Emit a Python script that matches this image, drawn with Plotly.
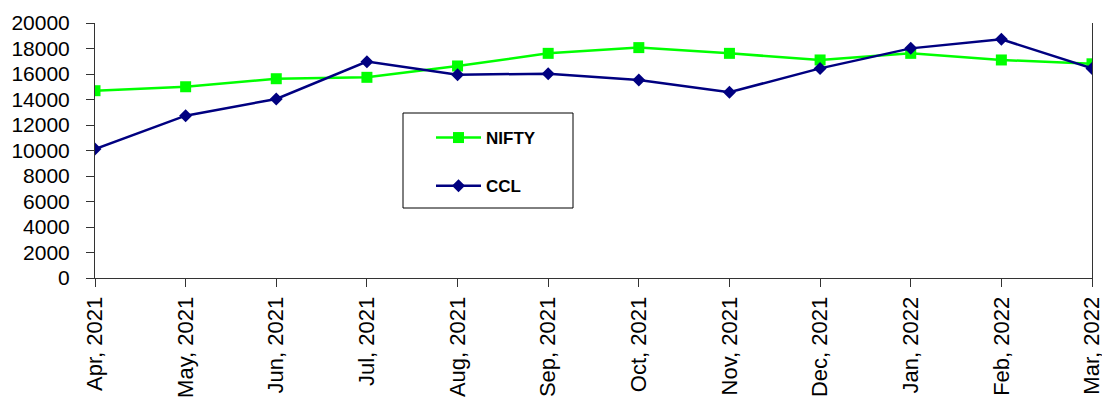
import plotly.graph_objects as go

months = ["Apr, 2021", "May, 2021", "Jun, 2021", "Jul, 2021", "Aug, 2021", "Sep, 2021",
          "Oct, 2021", "Nov, 2021", "Dec, 2021", "Jan, 2022", "Feb, 2022", "Mar, 2022"]
nifty = [14690, 15000, 15630, 15740, 16630, 17620, 18070, 17620, 17100, 17620, 17100, 16800]
ccl = [10120, 12730, 14040, 16970, 15950, 16020, 15530, 14570, 16440, 18010, 18720, 16440]
y_ticks = list(range(0, 20001, 2000))

W, H = 1102, 407
ML, MR, MT, MB = 95, 10, 23, 129
PW, PH = W - ML - MR, H - MT - MB

def px_x(p):
    return (p - ML) / PW

def px_y(p):
    return (H - MB - p) / PH

FONT = "Liberation Sans, Arial, sans-serif"

fig = go.Figure()
fig.add_trace(go.Scatter(
    x=months, y=nifty, name="NIFTY", mode="lines+markers",
    line=dict(color="#00FF00", width=2.5),
    marker=dict(symbol="square", size=11, color="#00FF00"),
    legendgroup="a",
))
fig.add_trace(go.Scatter(
    x=months, y=ccl, name="CCL", mode="lines+markers",
    line=dict(color="#000080", width=2.5),
    marker=dict(symbol="diamond", size=10, color="#000080"),
    legendgroup="b",
))

axis_line = "#333333"
fig.update_layout(
    width=W, height=H,
    margin=dict(l=ML, r=MR, t=MT, b=MB, pad=0, autoexpand=False),
    paper_bgcolor="white", plot_bgcolor="white",
    font=dict(family=FONT, color="black"),
    showlegend=True,
    legend=dict(
        x=px_x(431), y=px_y(120), xanchor="left", yanchor="top",
        bgcolor="rgba(0,0,0,0)", borderwidth=0,
        font=dict(family=FONT, size=17, color="black", weight="bold"),
        tracegroupgap=23, itemwidth=45,
    ),
    xaxis=dict(
        type="category", range=[0, len(months) - 1], automargin=False,
        showgrid=False, zeroline=False,
        showline=True, linecolor=axis_line, linewidth=1,
        ticks="outside", ticklen=8, tickcolor=axis_line, tickwidth=1,
        tickangle=-90, tickfont=dict(family=FONT, size=22, color="black"),
        ticklabelstandoff=1,
    ),
    yaxis=dict(
        range=[0, 20000], tickvals=y_ticks, tickformat="d", automargin=False,
        showgrid=False, zeroline=False,
        showline=True, linecolor=axis_line, linewidth=1, mirror=True,
        ticks="outside", ticklen=8, tickcolor=axis_line, tickwidth=1,
        tickfont=dict(family=FONT, size=21, color="black"),
        ticklabelstandoff=12,
    ),
    xaxis2=dict(
        type="category", range=[0, len(months) - 1], overlaying="x", anchor="y",
        categoryarray=months, tickvals=months, automargin=False,
        showgrid=False, zeroline=False, showline=False,
        ticks="inside", ticklen=6, tickcolor=axis_line, tickwidth=1,
        showticklabels=False, side="bottom",
    ),
    yaxis2=dict(
        range=[0, 20000], tickvals=y_ticks, overlaying="y", anchor="x", automargin=False,
        showgrid=False, zeroline=False, showline=False,
        ticks="inside", ticklen=6, tickcolor=axis_line, tickwidth=1,
        showticklabels=False, side="left",
    ),
    shapes=[dict(
        type="rect", xref="paper", yref="paper",
        x0=px_x(403), x1=px_x(573), y0=px_y(208), y1=px_y(113),
        line=dict(color="black", width=1), fillcolor="rgba(0,0,0,0)", layer="above",
    )],
)

fig.write_html(
    "out.html",
    config={"displayModeBar": False},
    post_script="document.body.style.margin='0px';document.body.style.overflow='hidden';",
)
